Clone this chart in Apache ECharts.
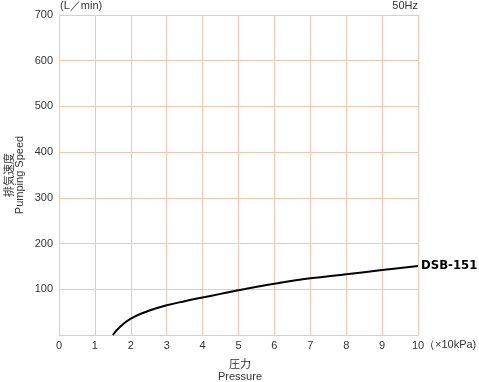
<!DOCTYPE html>
<html>
<head>
<meta charset="utf-8">
<script src="https://cdn.jsdelivr.net/npm/echarts@6/dist/echarts.min.js"></script>
<style>html,body{margin:0;padding:0;background:#fff}#c{width:479px;height:382px}</style>
</head>
<body>
<div id="c"></div>
<script>
const pressure = [1.5, 1.7, 2, 2.5, 3, 3.5, 4, 4.5, 5, 6, 7, 8, 9, 10];
const speed = [0, 18, 36, 53, 65, 74, 82, 90, 98, 112, 124, 133, 142, 151];
const seriesName = 'DSB-151';
const xTicks = [0,1,2,3,4,5,6,7,8,9,10];
const yTicks = [100,200,300,400,500,600,700];

const gridColor = '#f7c4ae';
const txt = '#333';
const ff = '"Liberation Sans", Arial, sans-serif';

const chart = echarts.init(document.getElementById('c'), null, {renderer: 'canvas'});
chart.setOption({
  animation: false,
  grid: {left: 59, right: 61, top: 15, bottom: 47},
  xAxis: {
    type: 'value', min: 0, max: 10, interval: 1,
    axisLine: {show: true, lineStyle: {color: gridColor}},
    axisTick: {show: false},
    splitLine: {show: true, lineStyle: {color: gridColor, width: 1}},
    axisLabel: {color: txt, fontSize: 11, fontFamily: ff, margin: 5,
      formatter: v => xTicks.includes(v) ? String(v) : ''}
  },
  yAxis: {
    type: 'value', min: 0, max: 700, interval: 100,
    axisLine: {show: true, lineStyle: {color: gridColor}},
    axisTick: {show: false},
    splitLine: {show: true, lineStyle: {color: gridColor, width: 1}},
    axisLabel: {color: txt, fontSize: 11, fontFamily: ff, margin: 6,
      formatter: v => yTicks.includes(v) ? String(v) : ''}
  },
  series: [{
    name: seriesName,
    type: 'line',
    data: pressure.map((p, i) => [p, speed[i]]),
    smooth: 0.4,
    symbol: 'none',
    lineStyle: {color: '#000', width: 2},
    endLabel: {show: true, formatter: seriesName, distance: 3,
      color: '#000', fontWeight: 'bold', fontSize: 13, fontFamily: '"DejaVu Sans Condensed", "Liberation Sans Narrow", sans-serif'}
  }],
  graphic: [
    {type: 'text', left: 60, top: 0, style: {text: '(L／min)', fill: txt, font: '11px ' + ff}},
    {type: 'text', right: 61, top: 0, style: {text: '50Hz', fill: txt, font: '11px ' + ff}},
    {type: 'text', left: 424, top: 339, style: {text: '（×10kPa)', fill: txt, font: '11px ' + ff}},
    {type: 'text', x: 240, y: 358, style: {text: '圧力', fill: txt, font: '11px "Noto Sans CJK JP", sans-serif', align: 'center'}},
    {type: 'text', x: 240, y: 371, style: {text: 'Pressure', fill: txt, font: '11px ' + ff, align: 'center'}},
    {type: 'text', x: 3, y: 175, rotation: Math.PI/2, style: {text: '排気速度', fill: txt, font: '11px "Noto Sans CJK JP", sans-serif', align: 'center', verticalAlign: 'top'}},
    {type: 'text', x: 14, y: 175, rotation: Math.PI/2, style: {text: 'Pumping Speed', fill: txt, font: '11px ' + ff, align: 'center', verticalAlign: 'top'}}
  ]
});
</script>
</body>
</html>
